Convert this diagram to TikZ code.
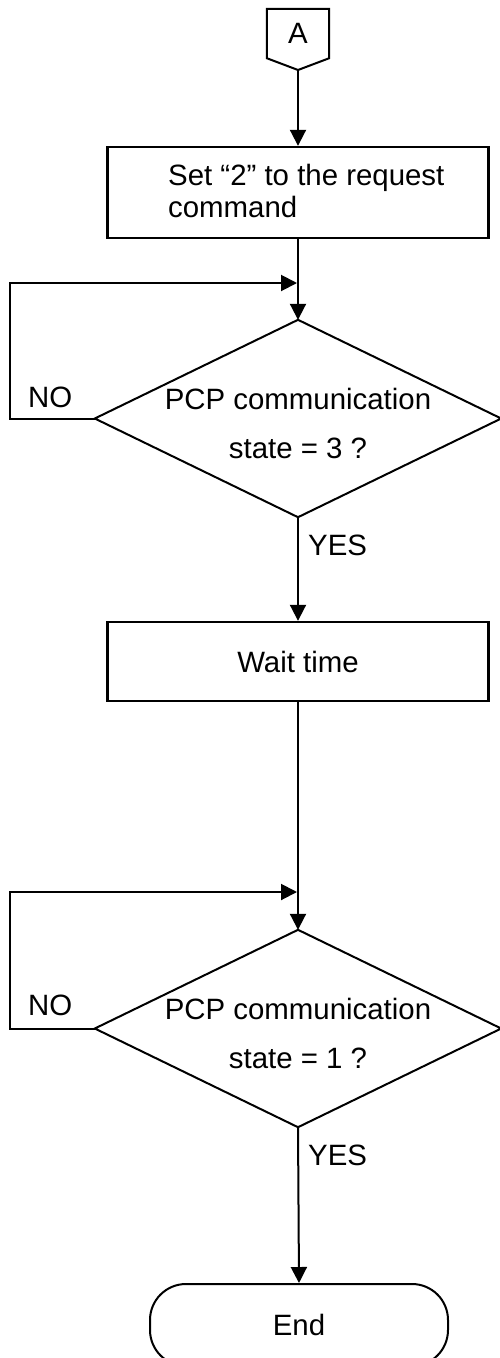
\documentclass[tikz,border=0pt]{standalone}
\usepackage{fontspec}
\setmainfont{Liberation Sans}
\usetikzlibrary{arrows.meta}
\begin{document}
\begin{tikzpicture}[x=1pt,y=-1pt,
  every node/.style={font=\fontsize{29.4}{33}\selectfont, inner sep=0pt},
  conn/.style={line width=2pt, -{Triangle[length=16pt,width=16pt]}},
  plain/.style={line width=2pt},
  procbox/.style={draw, line width=2.4pt, minimum width=381pt},
  decision/.style={minimum width=406pt, minimum height=197pt},
  outline/.style={line width=2pt, line join=miter},
  twoline/.style={align=center, font=\fontsize{29.4}{49}\selectfont},
]
\useasboundingbox (0,0) rectangle (500,1358);

% off-page connector A
\node[minimum width=62pt, minimum height=49pt] (conA) at (298,33.5) {A};
\coordinate (conAtip) at (298,70);
\draw[outline] (conA.north west) -- (conA.north east) -- (conA.south east)
  -- (conAtip) -- (conA.south west) -- cycle;

% first process box
\node[procbox, minimum height=91pt] (box1) at (298,192.5) {};
\node[anchor=west, align=left, font=\fontsize{29.4}{32}\selectfont] (box1txt) at (168,191)
  {Set “2” to the request\\command};
\draw[conn] (conAtip) -- (box1.north);

% first decision
\node[decision] (d1) at (298,418.5) {};
\draw[outline] (d1.north) -- (d1.east) -- (d1.south) -- (d1.west) -- cycle;
\node[twoline] (d1txt) at (298,423) {PCP communication\\state = 3 ?};
\coordinate (m1) at (298,283);
\draw[plain] (box1.south) -- (m1);
\draw[conn] (m1) -- (d1.north);
\draw[conn, shorten >=1pt] (d1.west) -- ++(-85,0) |- (m1);
\node[anchor=west] (no1) at (28,397) {NO};
\node[anchor=west] (yes1) at (308,545) {YES};

% wait box
\node[procbox, minimum height=79pt] (box2) at (298,661.5) {Wait time};
\draw[conn] (d1.south) -- (box2.north);

% second decision
\node[decision] (d2) at (298,1028.5) {};
\draw[outline] (d2.north) -- (d2.east) -- (d2.south) -- (d2.west) -- cycle;
\node[twoline] (d2txt) at (298,1033) {PCP communication\\state = 1 ?};
\coordinate (m2) at (298,892);
\draw[plain] (box2.south) -- (m2);
\draw[conn] (m2) -- (d2.north);
\draw[conn, shorten >=1pt] (d2.west) -- ++(-85,0) |- (m2);
\node[anchor=west] (no2) at (28,1005) {NO};
\node[anchor=west] (yes2) at (308,1155) {YES};

% terminator
\node[draw, line width=2pt, rounded corners=36pt, minimum width=298pt,
  minimum height=82pt] (endnode) at (299,1325) {End};
\draw[conn] (d2.south) -- (endnode.north);
\end{tikzpicture}
\end{document}
